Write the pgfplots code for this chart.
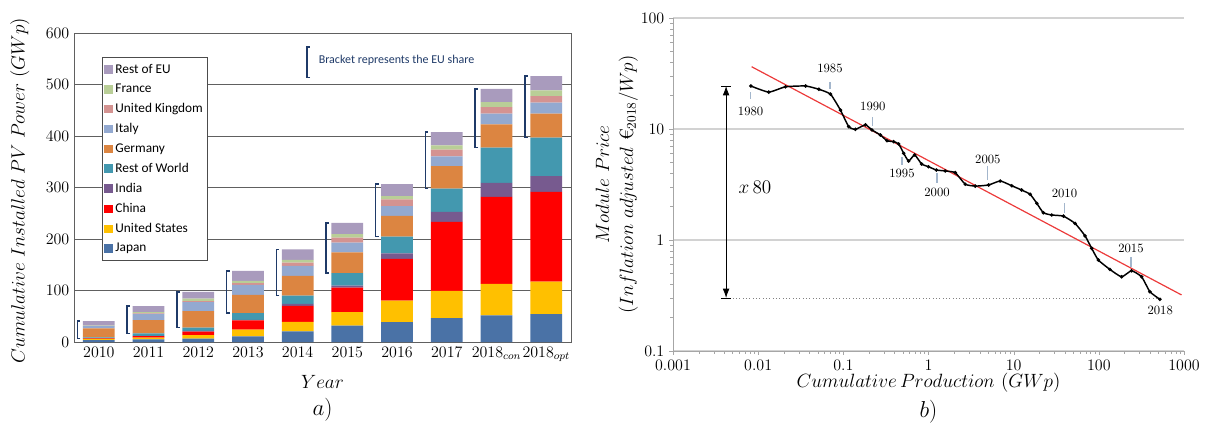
\documentclass[border=0pt]{standalone}
\usepackage{pgfplots}
\pgfplotsset{compat=1.18}
\usepackage{pgfplotstable}
\usepackage{fontspec}
\newfontfamily\carlito{Carlito}
\usetikzlibrary{arrows.meta}

\definecolor{cJapan}{HTML}{4A72A6}
\definecolor{cUS}{HTML}{FFC000}
\definecolor{cChina}{HTML}{FF0000}
\definecolor{cIndia}{HTML}{775A8F}
\definecolor{cRoW}{HTML}{4398AF}
\definecolor{cGermany}{HTML}{DC8541}
\definecolor{cItaly}{HTML}{93A9D0}
\definecolor{cUK}{HTML}{D49391}
\definecolor{cFrance}{HTML}{B9CE97}
\definecolor{cRestEU}{HTML}{A99BBD}
\definecolor{bracketc}{HTML}{1F3A68}
\definecolor{tickblue}{HTML}{A3B6CC}
\definecolor{fitred}{HTML}{EC3B3B}

\pgfplotstableread{
x Japan US China India RoW Germany Italy UK France RestEU
0 3.6 2.5 0.9 0.1 2.0 17.5 4.0 0.1 1.2 8.5
1 5.2 3.3 3.1 0.5 4.6 25.7 12.2 1.0 2.5 11.6
2 6.6 7.0 6.6 1.2 6.6 32.1 17.4 1.9 4.6 13.5
3 10.8 13.0 18.0 1.4 12.9 35.5 19.3 3.3 4.5 19.3
4 20.5 18.8 31.0 3.8 16.1 38.1 19.4 6.4 5.2 20.7
5 31.6 26.5 47.6 3.9 24.0 40.6 18.6 9.7 7.1 21.9
6 38.7 41.8 80.7 11.1 32.1 40.7 18.7 13.0 6.4 23.2
7 46.5 52.8 134.2 19.3 45.2 43.3 19.3 13.0 8.4 25.7
8 51.5 61.4 168.9 27.1 68.6 45.1 20.7 12.8 9.6 26.0
9 54.2 63.1 174.2 30.4 74.9 46.5 21.3 12.8 11.0 27.7
}\bars

\newcommand{\brk}[4]{% x-left, x-tick, low, high
  \draw[bracketc, line width=1.1pt] (axis cs:#2,#3) -- (axis cs:#1,#3) -- (axis cs:#1,#4) -- (axis cs:#2,#4);}

\begin{document}
\begin{tikzpicture}
\useasboundingbox (0,0) rectangle (909pt,324.75pt);

% ---------------- a) ----------------
\begin{axis}[
  at={(55.5pt,68.25pt)}, anchor=south west,
  scale only axis, width=372.75pt, height=231.75pt,
  ybar stacked, bar width=23.8pt,
  xmin=-0.5, xmax=9.5, ymin=0, ymax=600,
  xtick={0,...,9},
  xticklabels={2010,2011,2012,2013,2014,2015,2016,2017,$2018_{con}$,$2018_{opt}$},
  ytick={0,100,...,600},
  ymajorgrids, grid style={gray!75!black, line width=0.7pt},
  axis line style={gray!75!black, line width=0.7pt},
  major tick length=0pt,
  tick label style={font=\fontsize{12}{14}\selectfont},
  xlabel={$Year$},
  xlabel style={at={(axis description cs:0.5,-0.13)}, anchor=center, font=\Large},
  ylabel={$Cumulative\ Installed\ PV\ Power\ (GWp)$},
  ylabel style={at={(axis description cs:-0.109,0.49)}, anchor=center, rotate=0, font=\fontsize{13.3}{15}\selectfont},
  reverse legend,
  legend cell align=left,
  legend image code/.code={\fill[#1] (0pt,-3.2pt) rectangle (6.4pt,3.2pt);},
  legend style={at={(axis description cs:0.056,0.922)}, anchor=north west,
    draw=gray!60!black, line width=0.6pt, font=\carlito\fontsize{10}{11}\selectfont,
    row sep=2.6pt, inner xsep=1.5pt, inner ysep=3pt},
  clip=false,
]
\addplot[fill=cJapan, draw=none] table[x=x,y=Japan]{\bars}; \addlegendentry{Japan}
\addplot[fill=cUS, draw=none] table[x=x,y=US]{\bars}; \addlegendentry{United States}
\addplot[fill=cChina, draw=none] table[x=x,y=China]{\bars}; \addlegendentry{China}
\addplot[fill=cIndia, draw=none] table[x=x,y=India]{\bars}; \addlegendentry{India}
\addplot[fill=cRoW, draw=none] table[x=x,y=RoW]{\bars}; \addlegendentry{Rest of World}
\addplot[fill=cGermany, draw=none] table[x=x,y=Germany]{\bars}; \addlegendentry{Germany}
\addplot[fill=cItaly, draw=none] table[x=x,y=Italy]{\bars}; \addlegendentry{Italy}
\addplot[fill=cUK, draw=none] table[x=x,y=UK]{\bars}; \addlegendentry{United Kingdom}
\addplot[fill=cFrance, draw=none] table[x=x,y=France]{\bars}; \addlegendentry{France}
\addplot[fill=cRestEU, draw=none] table[x=x,y=RestEU]{\bars}; \addlegendentry{Rest of EU}
\brk{-0.43}{-0.37}{7.0}{40.4}
\brk{0.57}{0.63}{16.7}{69.7}
\brk{1.57}{1.63}{28.0}{97.5}
\brk{2.57}{2.63}{56.1}{138.0}
\brk{3.57}{3.63}{90.2}{180.0}
\brk{4.57}{4.63}{133.6}{231.5}
\brk{5.57}{5.63}{204.4}{306.4}
\brk{6.57}{6.63}{298.0}{407.7}
\brk{7.57}{7.63}{377.5}{491.7}
\brk{8.57}{8.63}{396.8}{516.1}
\brk{4.19}{4.25}{514}{573}
\node[anchor=west, text=bracketc, font=\carlito\fontsize{9}{10}\selectfont] at (axis cs:4.33,547) {Bracket represents the EU share};
\node[font=\LARGE] at (axis description cs:0.5,-0.22) {$a)$};
\end{axis}

% ---------------- b) ----------------
\begin{axis}[
  at={(504.75pt,61.5pt)}, anchor=south west,
  scale only axis, width=383.25pt, height=249.75pt,
  xmode=log, ymode=log,
  xmin=0.001, xmax=1000, ymin=0.1, ymax=100,
  axis x line*=bottom, axis y line*=left,
  axis line style={gray!70, line width=0.7pt},
  xtick={0.001,0.01,0.1,1,10,100,1000},
  xticklabels={0.001,0.01,0.1,1,10,100,1000},
  ytick={0.1,1,10,100},
  yticklabels={0.1,1,10,100},
  tick align=outside, major tick length=3pt, minor tick length=2pt,
  tick style={gray!70},
  ymajorgrids, grid style={gray!35, line width=0.9pt},
  tick label style={font=\fontsize{12}{14}\selectfont},
  xlabel={$Cumulative\,Production\ (GWp)$},
  xlabel style={at={(axis description cs:0.5,-0.096)}, anchor=center, font=\Large},
  ylabel={$Module\ Price$\\$(Inflation\ adjusted\ $€$_{2018}/Wp)$},
  ylabel style={at={(axis description cs:-0.11,0.5)}, anchor=center, align=center, font=\Large},
  clip=false,
]
\addplot[fitred, line width=0.9pt] coordinates {(0.00838,36.4) (935,0.320)};
\addplot[black, line width=1.1pt, smooth, tension=0.3, mark=*, mark size=0.7pt] coordinates {
(0.0082,24.4) (0.0133,21.5) (0.0209,24.0) (0.036,24.4) (0.0515,22.8) (0.0706,20.6)
(0.0925,14.8) (0.1156,10.5) (0.1387,9.93) (0.1815,10.9) (0.217,9.8) (0.272,8.83)
(0.325,7.85) (0.390,7.69) (0.447,7.33) (0.511,6.04) (0.585,5.15) (0.688,5.84)
(0.830,4.84) (1.0,4.57) (1.24,4.27) (1.57,4.19) (2.06,4.04) (2.70,3.18)
(3.54,3.06) (5.07,3.13) (6.95,3.40) (9.5,3.08) (12.4,2.82) (15.6,2.58)
(18.7,2.14) (22.3,1.76) (28.0,1.68) (38.4,1.64) (52.6,1.41) (68.9,1.09)
(82.4,0.841) (98.6,0.660) (135,0.543) (185,0.466) (242,0.528) (318,0.466)
(398,0.342) (521,0.292)};
\addplot[gray, dotted, line width=0.5pt] coordinates {(0.0042,0.3) (530,0.3)};
\addplot[black, line width=0.6pt, {Latex[length=7pt,width=5pt]}-{Latex[length=7pt,width=5pt]}] coordinates {(0.0042,24.4) (0.0042,0.3)};
\addplot[black, line width=0.6pt] coordinates {(0.0037,24.4) (0.0048,24.4)};
\addplot[black, line width=0.6pt] coordinates {(0.0037,0.3) (0.0048,0.3)};
\node[anchor=west, font=\Large] at (axis cs:0.0052,3.0) {$x$\,80};
% year ticks
\draw[tickblue, line width=0.9pt] (axis cs:0.00816,21.5) -- (axis cs:0.00816,18.6);
\draw[tickblue, line width=0.9pt] (axis cs:0.0697,26.5) -- (axis cs:0.0697,22.9);
\draw[tickblue, line width=0.9pt] (axis cs:0.222,12.8) -- (axis cs:0.222,10.6);
\draw[tickblue, line width=0.9pt] (axis cs:0.488,5.6) -- (axis cs:0.488,4.74);
\draw[tickblue, line width=0.9pt] (axis cs:1.26,4.02) -- (axis cs:1.26,3.27);
\draw[tickblue, line width=0.9pt] (axis cs:4.98,4.64) -- (axis cs:4.98,3.47);
\draw[tickblue, line width=0.9pt] (axis cs:39.5,2.15) -- (axis cs:39.5,1.75);
\draw[tickblue, line width=0.9pt] (axis cs:238,0.703) -- (axis cs:238,0.571);
\begin{scope}[every node/.style={font=\fontsize{9.5}{11}\selectfont}]
\node at (axis cs:0.00816,14.5) {1980};
\node at (axis cs:0.0697,34.8) {1985};
\node at (axis cs:0.222,16.1) {1990};
\node at (axis cs:0.488,3.94) {1995};
\node at (axis cs:1.26,2.71) {2000};
\node at (axis cs:4.98,5.37) {2005};
\node at (axis cs:39.5,2.65) {2010};
\node at (axis cs:238,0.847) {2015};
\node at (axis cs:525,0.231) {2018};
\end{scope}
\node[font=\LARGE] at (axis description cs:0.5,-0.183) {$b)$};
\end{axis}
\end{tikzpicture}
\end{document}
